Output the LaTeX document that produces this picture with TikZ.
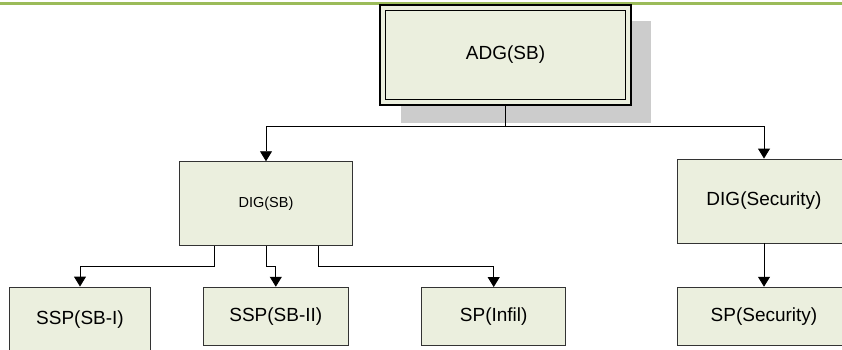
\documentclass[tikz,border=0pt]{standalone}
\usepackage{fontspec}
\setmainfont{Liberation Sans}
\usetikzlibrary{arrows.meta,calc}

\definecolor{boxfill}{RGB}{235,239,222}
\definecolor{shadowgray}{RGB}{204,204,204}
\definecolor{rulegreen}{RGB}{155,187,89}

\tikzset{
  unit/.style={x=1pt,y=-1pt},
  bigtext/.style={font=\fontsize{19}{22}\selectfont},
  smalltext/.style={font=\fontsize{14.5}{17}\selectfont},
  orgbox/.style={draw=black!80, line width=0.9pt, fill=boxfill, inner sep=0pt,
    bigtext, align=center},
  link/.style={draw=black, line width=0.9pt},
  arr/.style={link, -{Triangle[width=12pt,length=10pt]}},
}

\begin{document}
\begin{tikzpicture}[unit]
  \useasboundingbox (0,0) rectangle (842,350);
  \clip (0,0) rectangle (842,350);

  % header rule
  \fill[rulegreen] (0,2) rectangle (842,5.5);

  % top box: drop shadow, then double frame
  \fill[shadowgray] (401,21) rectangle (651,123);
  \node[orgbox, draw=black, line width=2.4pt, minimum width=251pt, minimum height=100pt]
    (adg) at (505.5,55) {};
  \draw[black, line width=1.2pt] (385.5,10.5) rectangle (625.5,99.5);
  \node[bigtext] (adgtext) at (adg.center) {ADG(SB)};

  % second level
  \node[orgbox, smalltext, minimum width=173pt, minimum height=84pt] (digsb) at (266,203.7) {DIG(SB)};
  \node[orgbox, minimum width=174pt, minimum height=84pt] (digsec) at (764,201) {DIG(Security)};

  % third level
  \node[orgbox, minimum width=141pt, minimum height=66pt] (ssp1) at (80,320) {SSP(SB-I)};
  \node[orgbox, minimum width=145pt, minimum height=58pt] (ssp2) at (275.8,316.2) {SSP(SB-II)};
  \node[orgbox, minimum width=144pt, minimum height=58pt] (spinfil) at (493.7,316.5) {SP(Infil)};
  \node[orgbox, minimum width=174pt, minimum height=58pt] (spsec) at (764,316.2) {SP(Security)};

  % connectors from the top box
  \draw[link] (adg.south) -- (adg.south |- 0,126) coordinate (bus);
  \draw[arr] (bus) -| (digsb.north);
  \draw[arr] (bus) -| (digsec.north);

  % connectors from DIG(SB)
  \draw[arr] ([xshift=-52pt]digsb.south) -- ++(0,20) -| (ssp1.north);
  \draw[arr] (digsb.south) -- ++(0,20) -| (ssp2.north);
  \draw[arr] ([xshift=52pt]digsb.south) -- ++(0,20) -| (spinfil.north);

  % connector from DIG(Security)
  \draw[arr] (digsec.south) -- (spsec.north);
\end{tikzpicture}
\end{document}
